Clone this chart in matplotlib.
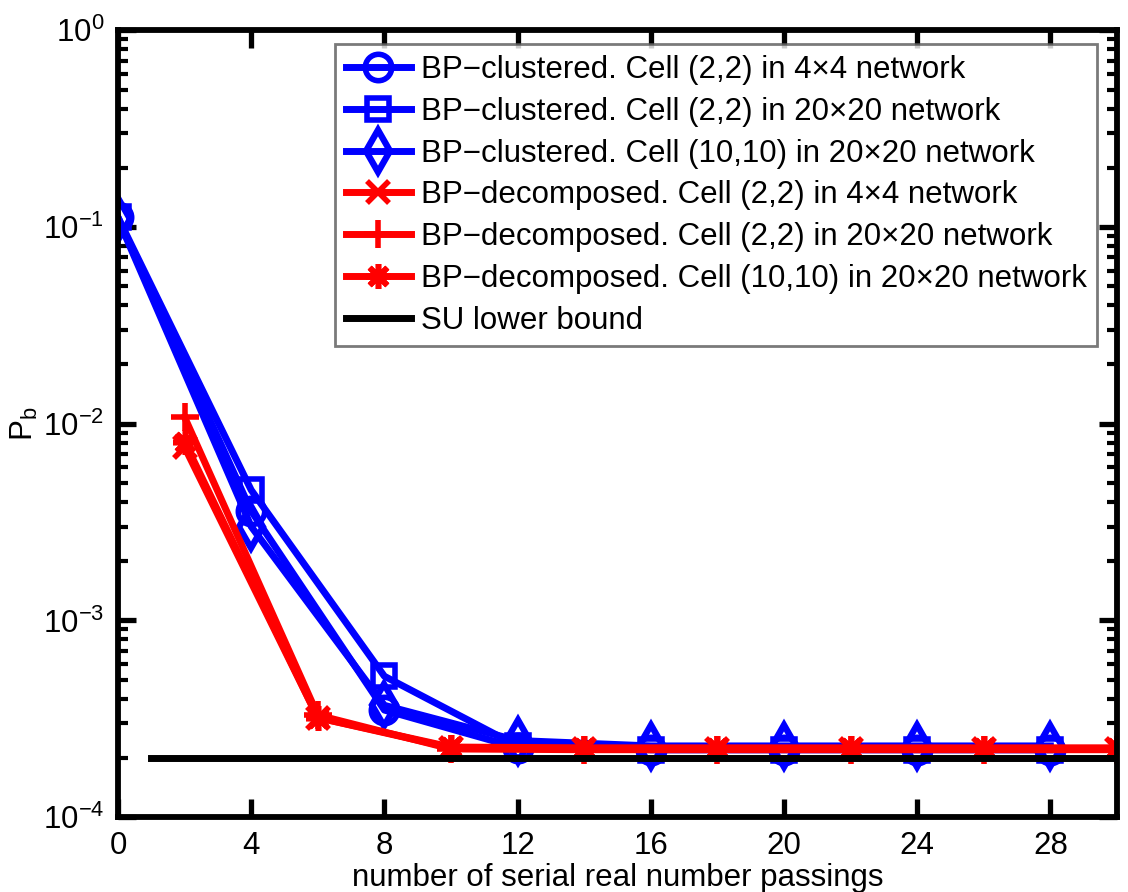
import matplotlib
matplotlib.use("Agg")
import math
import matplotlib.pyplot as plt
from matplotlib.ticker import FixedLocator, LogLocator, NullFormatter, FuncFormatter

plt.rcParams['font.family'] = ['Liberation Sans', 'DejaVu Sans']
plt.rcParams['mathtext.fontset'] = 'custom'
plt.rcParams['mathtext.rm'] = 'Liberation Sans'
plt.rcParams['mathtext.it'] = 'Liberation Sans:italic'
plt.rcParams['mathtext.default'] = 'rm'

# ---- data ----
x_clustered = [0, 4, 8, 12, 16, 20, 24, 28]
clu_22_4x4 = [0.112, 3.6e-3, 3.5e-4, 2.25e-4, 2.2e-4, 2.2e-4, 2.2e-4, 2.2e-4]
clu_22_20x20 = [0.112, 4.6e-3, 5.2e-4, 2.3e-4, 2.2e-4, 2.2e-4, 2.2e-4, 2.2e-4]
clu_1010_20x20 = [0.110, 3.0e-3, 3.7e-4, 2.45e-4, 2.3e-4, 2.3e-4, 2.3e-4, 2.3e-4]

x_decomposed = [2, 6, 10, 14, 18, 22, 26, 30]
dec_22_4x4 = [7.6e-3, 3.2e-4, 2.25e-4, 2.22e-4, 2.22e-4, 2.22e-4, 2.22e-4, 2.22e-4]
dec_22_20x20 = [1.08e-2, 3.3e-4, 2.22e-4, 2.2e-4, 2.2e-4, 2.2e-4, 2.2e-4, 2.2e-4]
dec_1010_20x20 = [8.1e-3, 3.2e-4, 2.27e-4, 2.25e-4, 2.25e-4, 2.25e-4, 2.25e-4, 2.25e-4]

x_bound = [1, 30]
su_bound = [2.0e-4, 2.0e-4]

labels = [
    "BP\u2212clustered. Cell (2,2) in 4\u00d74 network",
    "BP\u2212clustered. Cell (2,2) in 20\u00d720 network",
    "BP\u2212clustered. Cell (10,10) in 20\u00d720 network",
    "BP\u2212decomposed. Cell (2,2) in 4\u00d74 network",
    "BP\u2212decomposed. Cell (2,2) in 20\u00d720 network",
    "BP\u2212decomposed. Cell (10,10) in 20\u00d720 network",
    "SU lower bound",
]
x_ticks = [0, 4, 8, 12, 16, 20, 24, 28]

# ---- figure ----
fig = plt.figure(figsize=(11.28, 8.92), dpi=100)
ax = fig.add_axes([0.1046, 0.084, 0.8856, 0.882])

FS = 22.5
lw = 5.0
mew = 4.0
blue = (0, 0, 1)
red = (1, 0, 0)

ax.plot(x_clustered, clu_22_4x4, color=blue, lw=lw, marker='o', ms=19,
        mew=mew, mfc='none', label=labels[0])
ax.plot(x_clustered, clu_22_20x20, color=blue, lw=lw, marker='s', ms=16,
        mew=mew, mfc='none', label=labels[1])
ax.plot(x_clustered, clu_1010_20x20, color=blue, lw=lw, marker='d', ms=21,
        mew=4.6, mfc='none', label=labels[2])
ax.plot(x_decomposed, dec_22_4x4, color=red, lw=lw, marker='x', ms=16,
        mew=mew, label=labels[3])
ax.plot(x_decomposed, dec_22_20x20, color=red, lw=lw, marker='+', ms=20,
        mew=mew, label=labels[4])
ax.plot(x_decomposed, dec_1010_20x20, color=red, lw=lw, marker=(8, 2, 0), ms=18,
        mew=mew, label=labels[5])
ax.plot(x_bound, su_bound, color='black', lw=lw, label=labels[6])

ax.set_yscale('log')
ax.set_xlim(0, 30)
ax.set_ylim(1e-4, 1)
ax.xaxis.set_major_locator(FixedLocator(x_ticks))
ax.yaxis.set_major_locator(LogLocator(base=10, numticks=10))
ax.yaxis.set_minor_locator(LogLocator(base=10, subs=range(2, 10), numticks=20))
ax.yaxis.set_minor_formatter(NullFormatter())

def yfmt(v, pos):
    e = int(round(math.log10(v)))
    return r'$10^{%s}$' % (('\u2212%d' % -e) if e < 0 else str(e))
ax.yaxis.set_major_formatter(FuncFormatter(yfmt))

for s in ax.spines.values():
    s.set_linewidth(4.2)
ax.tick_params(axis='both', which='major', direction='in', length=13, width=3.8,
               top=True, right=True, labelsize=FS, pad=10)
ax.tick_params(axis='y', which='minor', direction='in', length=7, width=3,
               left=True, right=True)
ax.tick_params(axis='x', which='minor', bottom=False, top=False)

ax.set_xlabel('number of serial real number passings', fontsize=FS)
ax.xaxis.set_label_coords(0.5, -0.058)
ax.set_ylabel(r'$\mathrm{P_b}$', fontsize=FS, labelpad=2)

leg = ax.legend(loc='upper right', bbox_to_anchor=(0.98, 0.982), borderaxespad=0,
                fontsize=FS, frameon=True, fancybox=False, edgecolor=(0.35, 0.35, 0.35),
                handlelength=2.08, handletextpad=0.32, labelspacing=0.38,
                borderpad=0.33, markerscale=1.0)
leg.get_frame().set_linewidth(2.0)

fig.savefig('out.png', dpi=100)
